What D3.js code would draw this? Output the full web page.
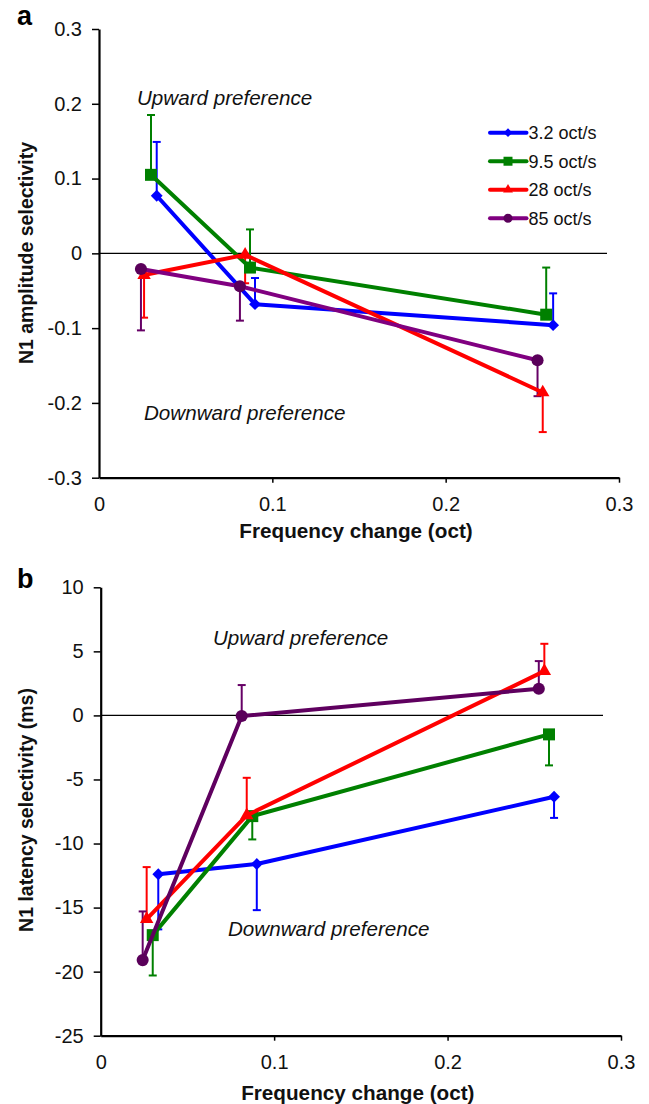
<!DOCTYPE html>
<html><head><meta charset="utf-8">
<script src="https://cdn.jsdelivr.net/npm/d3@7"></script>
<style>
body{margin:0;background:#fff;}
svg{display:block;font-family:"Liberation Sans",Arial,Helvetica,sans-serif;}
</style></head>
<body><svg id="c" width="649" height="1104"></svg>
<script>
// ---------- data ----------
const seriesNames = ["3.2 oct/s", "9.5 oct/s", "28 oct/s", "85 oct/s"];
const xTicks = [0, 0.1, 0.2, 0.3];
const ampTicks = [-0.3, -0.2, -0.1, 0, 0.1, 0.2, 0.3];
const latTicks = [-25, -20, -15, -10, -5, 0, 5, 10];

// Panel a: N1 amplitude selectivity
const ampBlueX = [0.0333, 0.090, 0.262];
const ampBlueY = [0.077, -0.068, -0.096];
const ampBlueErr = [0.072, 0.035, 0.0425];      // upward bars
const ampGreenX = [0.030, 0.0871, 0.258];
const ampGreenY = [0.105, -0.019, -0.082];
const ampGreenErr = [0.080, 0.051, 0.063];      // upward bars
const ampRedX = [0.026, 0.0843, 0.256];
const ampRedY = [-0.029, -0.002, -0.186];
const ampRedErr = [0.057, 0.038, 0.053];        // downward bars
const ampPurpleX = [0.0242, 0.0813, 0.253];
const ampPurpleY = [-0.021, -0.044, -0.143];
const ampPurpleErr = [0.082, 0.046, 0.048];     // downward bars

// Panel b: N1 latency selectivity (ms)
const latBlueX = [0.0332, 0.090, 0.2614];
const latBlueY = [-12.4, -11.6, -6.35];
const latBlueErr = [4.3, 3.6, 1.65];            // downward bars
const latGreenX = [0.030, 0.0874, 0.2585];
const latGreenY = [-17.15, -7.86, -1.48];
const latGreenErr = [3.15, 1.82, 2.42];         // downward bars
const latRedX = [0.0265, 0.0842, 0.2558];
const latRedY = [-15.9, -7.8, 3.46];
const latRedErr = [4.06, 2.93, 2.13];           // upward bars
const latPurpleX = [0.0242, 0.0813, 0.2526];
const latPurpleY = [-19.1, -0.05, 2.08];
const latPurpleErr = [3.8, 2.42, 2.16];         // upward bars

// ---------- styles ----------
const FONT = '"Liberation Sans",Arial,Helvetica,sans-serif';
const colBlue = "#0000ff", colGreen = "#008000", colRed = "#ff0000";
const colPurpleA = "#800080", colPurpleB = "#5f005f", colPurpleMark = "#5a005a", colPurpleErr = "#660066";

const svg = d3.select("#c");

function sym(kind, big) {
  if (kind === "diamond") return d3.symbol(d3.symbolSquare, big ? 70 : 38)();
  if (kind === "square") return d3.symbol(d3.symbolSquare, big ? 144 : 81)();
  if (kind === "triangle") return d3.symbol(d3.symbolTriangle, big ? 78 : 42)();
  return d3.symbol(d3.symbolCircle, big ? 115 : 64)();
}

function panel(opt) {
  const g = svg.append("g");
  const x = d3.scaleLinear().domain([0, 0.3]).range(opt.xr);
  const y = d3.scaleLinear().domain(opt.yd).range(opt.yr);

  // zero line
  g.append("line").attr("x1", x(0)).attr("x2", opt.zeroEnd)
    .attr("y1", y(0)).attr("y2", y(0)).attr("stroke", "#000").attr("stroke-width", 1.2);

  // axes
  const fmt = d => (d === 0 ? "0" : String(+d.toFixed(1)));
  const ya = g.append("g").attr("transform", `translate(${x(0)},0)`)
    .call(d3.axisLeft(y).tickValues(opt.yTicks).tickFormat(fmt).tickSize(7).tickSizeOuter(0).tickPadding(10));
  const xa = g.append("g").attr("transform", `translate(0,${y(opt.yd[0])})`)
    .call(d3.axisBottom(x).tickValues(xTicks).tickFormat(fmt).tickSize(5).tickSizeOuter(0).tickPadding(14));
  [ya, xa].forEach(a => {
    a.select(".domain").attr("stroke-width", 2.2).attr("stroke", "#000");
    a.selectAll(".tick line").attr("stroke-width", 1.5).attr("stroke", "#000");
    a.selectAll(".tick text").attr("font-size", 20).attr("font-family", FONT).attr("fill", "#111");
  });
  xa.selectAll(".tick").filter(d => d === 0).select("line").remove();

  // titles
  g.append("text").attr("x", (opt.xr[0] + opt.xr[1]) / 2 - 3).attr("y", y(opt.yd[0]) + opt.xTitleOff)
    .attr("text-anchor", "middle").attr("font-weight", "bold").attr("font-size", 20.7)
    .attr("font-family", FONT).attr("fill", "#111").text("Frequency change (oct)");
  g.append("text").attr("transform", `translate(33,${opt.yTitleY}) rotate(-90)`)
    .attr("text-anchor", "middle").attr("font-weight", "bold").attr("font-size", 19.5)
    .attr("font-family", FONT).attr("fill", "#111").text(opt.yTitle);
  g.append("text").attr("x", 17).attr("y", opt.labelY).attr("font-weight", "bold").attr("font-size", 27)
    .attr("font-family", FONT).attr("fill", "#000").text(opt.label);

  // annotations
  opt.notes.forEach(n => {
    g.append("text").attr("x", n.x).attr("y", n.y).attr("font-style", "italic").attr("font-size", 20.6)
      .attr("font-family", FONT).attr("fill", "#111").text(n.t);
  });

  // error bars first
  opt.series.forEach(s => {
    s.xs.forEach((xv, i) => {
      const y0 = y(s.ys[i]), y1 = y(s.ys[i] + s.dir * s.err[i]), cx = x(xv);
      g.append("line").attr("x1", cx).attr("x2", cx).attr("y1", y0).attr("y2", y1)
        .attr("stroke", s.errColor).attr("stroke-width", 2);
      g.append("line").attr("x1", cx - 4).attr("x2", cx + 4).attr("y1", y1).attr("y2", y1)
        .attr("stroke", s.errColor).attr("stroke-width", 2);
    });
  });
  // lines and markers
  const line = d3.line().x(d => x(d[0])).y(d => y(d[1]));
  opt.series.forEach(s => {
    const pts = s.xs.map((xv, i) => [xv, s.ys[i]]);
    g.append("path").attr("d", line(pts)).attr("fill", "none").attr("stroke", s.color)
      .attr("stroke-width", 4).attr("stroke-linejoin", "round");
    pts.forEach(p => {
      g.append("path").attr("d", sym(s.marker, true))
        .attr("transform", `translate(${x(p[0])},${y(p[1])})${s.marker === "diamond" ? " rotate(45)" : ""}`)
        .attr("fill", s.markColor);
    });
  });
  return g;
}

const markers = ["diamond", "square", "triangle", "circle"];

panel({
  xr: [99, 619], yd: [-0.3, 0.3], yr: [477.7, 29], yTicks: ampTicks, zeroEnd: 607,
  xTitleOff: 60.5, yTitle: "N1 amplitude selectivity", yTitleY: 253, label: "a", labelY: 25,
  notes: [{ t: "Upward preference", x: 137, y: 105 }, { t: "Downward preference", x: 144, y: 420 }],
  series: [
    { xs: ampBlueX, ys: ampBlueY, err: ampBlueErr, dir: 1, color: colBlue, markColor: colBlue, errColor: colBlue, marker: "diamond" },
    { xs: ampGreenX, ys: ampGreenY, err: ampGreenErr, dir: 1, color: colGreen, markColor: colGreen, errColor: colGreen, marker: "square" },
    { xs: ampRedX, ys: ampRedY, err: ampRedErr, dir: -1, color: colRed, markColor: colRed, errColor: colRed, marker: "triangle" },
    { xs: ampPurpleX, ys: ampPurpleY, err: ampPurpleErr, dir: -1, color: colPurpleA, markColor: colPurpleMark, errColor: colPurpleErr, marker: "circle" }
  ]
});

panel({
  xr: [100.7, 621], yd: [-25, 10], yr: [1035.7, 587.3], yTicks: latTicks, zeroEnd: 603,
  xTitleOff: 64, yTitle: "N1 latency selectivity (ms)", yTitleY: 810, label: "b", labelY: 588,
  notes: [{ t: "Upward preference", x: 213, y: 645 }, { t: "Downward preference", x: 228, y: 936 }],
  series: [
    { xs: latBlueX, ys: latBlueY, err: latBlueErr, dir: -1, color: colBlue, markColor: colBlue, errColor: colBlue, marker: "diamond" },
    { xs: latGreenX, ys: latGreenY, err: latGreenErr, dir: -1, color: colGreen, markColor: colGreen, errColor: colGreen, marker: "square" },
    { xs: latRedX, ys: latRedY, err: latRedErr, dir: 1, color: colRed, markColor: colRed, errColor: colRed, marker: "triangle" },
    { xs: latPurpleX, ys: latPurpleY, err: latPurpleErr, dir: 1, color: colPurpleB, markColor: colPurpleMark, errColor: colPurpleErr, marker: "circle" }
  ]
});

// legend (panel a)
const legColors = [colBlue, colGreen, colRed, colPurpleA];
const legMarkColors = [colBlue, colGreen, colRed, colPurpleMark];
const legY = d3.scalePoint().domain(seriesNames).range([132.7, 218.3]);
const leg = svg.append("g");
seriesNames.forEach((name, i) => {
  const yy = legY(name);
  leg.append("line").attr("x1", 490).attr("x2", 526.5).attr("y1", yy).attr("y2", yy)
    .attr("stroke", legColors[i]).attr("stroke-width", 4).attr("stroke-linecap", "round");
  leg.append("path").attr("d", sym(markers[i], false))
    .attr("transform", `translate(508,${yy})${markers[i] === "diamond" ? " rotate(45)" : ""}`)
    .attr("fill", legMarkColors[i]);
  leg.append("text").attr("x", 528.5).attr("y", yy).attr("dy", "0.35em").attr("font-size", 18)
    .attr("font-family", FONT).attr("fill", "#111").text(name);
});
</script></body></html>
